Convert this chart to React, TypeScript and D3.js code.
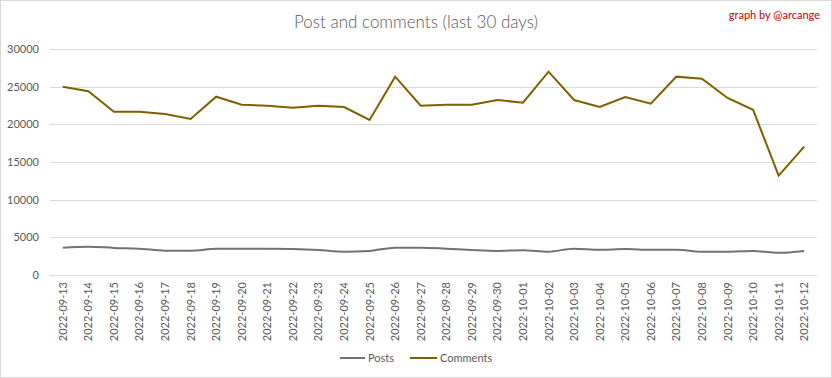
import React from "react";
import * as d3 from "d3";

const dates = [
  "2022-09-13","2022-09-14","2022-09-15","2022-09-16","2022-09-17","2022-09-18","2022-09-19",
  "2022-09-20","2022-09-21","2022-09-22","2022-09-23","2022-09-24","2022-09-25","2022-09-26",
  "2022-09-27","2022-09-28","2022-09-29","2022-09-30","2022-10-01","2022-10-02","2022-10-03",
  "2022-10-04","2022-10-05","2022-10-06","2022-10-07","2022-10-08","2022-10-09","2022-10-10",
  "2022-10-11","2022-10-12",
];

const posts = [
  3630, 3760, 3600, 3500, 3230, 3230, 3470, 3500, 3500, 3450, 3320, 3100, 3200, 3630,
  3630, 3500, 3320, 3200, 3300, 3100, 3500, 3350, 3450, 3350, 3350, 3100, 3100, 3200,
  2950, 3200,
];

const comments = [
  24980, 24400, 21680, 21680, 21370, 20710, 23670, 22610, 22480, 22210, 22480, 22300, 20575, 26330,
  22480, 22610, 22610, 23230, 22870, 26990, 23230, 22300, 23630, 22740, 26330, 26060, 23500, 21940,
  13190, 17040,
];

const yTicks = [0, 5000, 10000, 15000, 20000, 25000, 30000];

const W = 832;
const H = 378;
const FONT = "Lato, 'Open Sans', sans-serif";

export default function App() {
  const left = 50;
  const right = 817;
  const top = 49;
  const bottom = 275;

  const x = d3.scaleBand<string>().domain(dates).range([left, right]);
  const y = d3.scaleLinear().domain([0, 30000]).range([bottom, top]);
  const cx = (d: string) => (x(d) as number) + x.bandwidth() / 2;

  const postsLine = d3
    .line<number>()
    .x((_, i) => cx(dates[i]))
    .y((v) => y(v))
    .curve(d3.curveMonotoneX);
  const commentsLine = d3
    .line<number>()
    .x((_, i) => cx(dates[i]))
    .y((v) => y(v));

  return (
    <svg
      width={W}
      height={H}
      style={{ position: "absolute", left: 0, top: 0, background: "#fff" }}
      fontFamily={FONT}
    >
      <rect x={0.5} y={0.5} width={W - 1} height={H - 1} fill="#fff" stroke="#d9d9d9" />
      <text x={416} y={28} textAnchor="middle" fontSize={17} fill="#595959" fontWeight={300}>
        Post and comments (last 30 days)
      </text>
      <text x={820} y={19} textAnchor="end" fontSize={11} fill="#c00000">
        graph by @arcange
      </text>
      {yTicks.map((t) => (
        <g key={t}>
          <line x1={left} x2={right} y1={Math.round(y(t)) + 0.5} y2={Math.round(y(t)) + 0.5} stroke="#d9d9d9" />
          <text x={39} y={y(t) + 4} textAnchor="end" fontSize={11} fill="#595959">
            {t}
          </text>
        </g>
      ))}
      {dates.map((d) => (
        <text
          key={d}
          transform={`translate(${cx(d) + 4},${bottom + 7}) rotate(-90)`}
          textAnchor="end"
          fontSize={11}
          fill="#595959"
        >
          {d}
        </text>
      ))}
      <path d={postsLine(posts) || ""} fill="none" stroke="#767171" strokeWidth={2} />
      <path d={commentsLine(comments) || ""} fill="none" stroke="#7f6000" strokeWidth={2} />
      <g fontSize={11} fill="#595959">
        <line x1={340} x2={365} y1={358} y2={358} stroke="#767171" strokeWidth={2} />
        <text x={368} y={362}>Posts</text>
        <line x1={410} x2={437} y1={358} y2={358} stroke="#7f6000" strokeWidth={2} />
        <text x={440} y={362}>Comments</text>
      </g>
    </svg>
  );
}
